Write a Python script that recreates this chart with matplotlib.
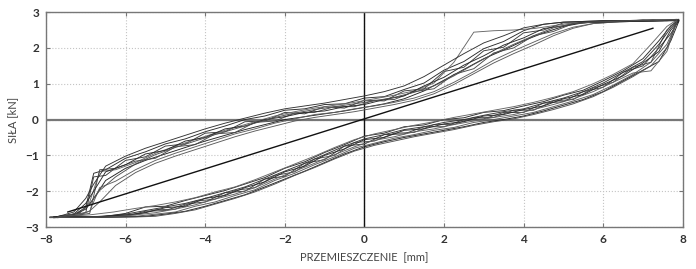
import numpy as np
import matplotlib
matplotlib.use("Agg")
import matplotlib.pyplot as plt

# --- przemieszczenie (x): dwie siatki punktow pomiarowych ---
x_load_a = [-7.8, -7.2, -6.6, -6.0, -5.5, -5.0, -4.5, -4.0, -3.5, -3.0, -2.5,
            -2.0, -1.5, -1.0, -0.5, 0.0, 0.5, 1.0, 1.5, 2.0, 2.5, 3.0, 3.5,
            4.0, 4.5, 5.0, 5.5, 6.0, 6.5, 7.0, 7.4, 7.7, 7.9]
x_load_b = [-7.9, -7.4, -6.9, -6.3, -5.75, -5.25, -4.75, -4.25, -3.75, -3.25,
            -2.75, -2.25, -1.75, -1.25, -0.75, -0.25, 0.25, 0.75, 1.25, 1.75,
            2.25, 2.75, 3.25, 3.75, 4.25, 4.75, 5.25, 5.75, 6.25, 6.75, 7.2,
            7.6, 7.85]
x_unload_a = [7.9, 7.5, 7.0, 6.5, 6.0, 5.5, 5.0, 4.5, 4.0, 3.5, 3.0, 2.5, 2.0,
              1.5, 1.0, 0.5, 0.0, -0.5, -1.0, -1.5, -2.0, -2.5, -3.0, -3.5,
              -4.0, -4.5, -5.0, -5.5, -6.0, -6.5, -6.8, -7.0, -7.3, -7.8]
x_unload_b = [7.85, 7.6, 7.25, 6.75, 6.25, 5.75, 5.25, 4.75, 4.25, 3.75, 3.25,
              2.75, 2.25, 1.75, 1.25, 0.75, 0.25, -0.25, -0.75, -1.25, -1.75,
              -2.25, -2.75, -3.25, -3.75, -4.25, -4.75, -5.25, -5.75, -6.25,
              -6.65, -6.9, -7.15, -7.7]

# --- sila (y), galaz obciazenia, kolejne cykle ---
load_1 = [-2.72, -2.70, -2.72, -2.62, -2.44, -2.42, -2.26, -2.12, -1.98, -1.80, -1.62, -1.36, -1.18, -0.92, -0.70, -0.46, -0.38,
          -0.20, -0.15, 0.00, 0.05, 0.20, 0.25, 0.38, 0.50, 0.68, 0.82, 1.08, 1.36, 1.70, 2.20, 2.62, 2.77]
load_2 = [-2.73, -2.72, -2.73, -2.72, -2.70, -2.64, -2.58, -2.42, -2.30, -2.12, -1.96, -1.70, -1.50, -1.26, -1.04, -0.80, -0.66,
          -0.52, -0.42, -0.30, -0.22, -0.08, 0.00, 0.10, 0.20, 0.36, 0.52, 0.70, 0.96, 1.26, 1.60, 2.10, 2.72]
load_3 = [-2.71, -2.73, -2.70, -2.70, -2.56, -2.54, -2.36, -2.30, -2.04, -2.00, -1.66, -1.58, -1.22, -1.12, -0.74, -0.68, -0.42,
          -0.40, -0.20, -0.20, 0.00, 0.02, 0.20, 0.20, 0.46, 0.50, 0.78, 0.90, 1.32, 1.50, 2.00, 2.40, 2.76]
load_4 = [-2.72, -2.70, -2.66, -2.58, -2.48, -2.40, -2.30, -2.18, -2.02, -1.88, -1.68, -1.46, -1.24, -1.02, -0.78, -0.56, -0.40,
          -0.28, -0.16, -0.06, 0.06, 0.16, 0.26, 0.36, 0.48, 0.62, 0.78, 1.00, 1.26, 1.56, 2.10, 2.60, 2.78]
load_5 = [-2.74, -2.72, -2.73, -2.72, -2.70, -2.64, -2.56, -2.42, -2.26, -2.10, -1.88, -1.66, -1.44, -1.20, -0.96, -0.76, -0.62,
          -0.50, -0.40, -0.30, -0.20, -0.08, 0.00, 0.10, 0.24, 0.40, 0.56, 0.78, 1.08, 1.38, 1.62, 2.20, 2.74]
load_6 = [-2.72, -2.70, -2.73, -2.68, -2.66, -2.52, -2.50, -2.28, -2.22, -1.98, -1.90, -1.56, -1.46, -1.10, -1.00, -0.64, -0.60,
          -0.38, -0.36, -0.14, -0.14, 0.06, 0.06, 0.26, 0.26, 0.52, 0.56, 0.88, 1.04, 1.46, 1.60, 2.50, 2.76]
load_7 = [-2.72, -2.72, -2.70, -2.64, -2.54, -2.44, -2.34, -2.20, -2.04, -1.88, -1.66, -1.44, -1.22, -0.98, -0.74, -0.54, -0.42,
          -0.28, -0.20, -0.08, 0.00, 0.12, 0.22, 0.30, 0.46, 0.60, 0.78, 1.02, 1.32, 1.62, 2.10, 2.56, 2.78]
load_8 = [-2.73, -2.71, -2.72, -2.71, -2.66, -2.60, -2.50, -2.38, -2.22, -2.08, -1.90, -1.66, -1.44, -1.22, -0.98, -0.76, -0.58,
          -0.48, -0.34, -0.26, -0.14, -0.04, 0.06, 0.14, 0.28, 0.42, 0.58, 0.78, 1.04, 1.30, 1.36, 1.90, 2.74]
load_9 = [-2.73, -2.71, -2.71, -2.66, -2.60, -2.46, -2.42, -2.20, -2.12, -1.90, -1.74, -1.46, -1.30, -1.00, -0.82, -0.56, -0.50,
          -0.30, -0.26, -0.12, -0.06, 0.10, 0.14, 0.28, 0.38, 0.58, 0.70, 0.98, 1.22, 1.58, 1.90, 2.50, 2.75]
load_10 = [-2.74, -2.73, -2.72, -2.72, -2.72, -2.70, -2.62, -2.52, -2.36, -2.20, -2.02, -1.80, -1.56, -1.34, -1.10, -0.88, -0.72,
           -0.60, -0.48, -0.38, -0.28, -0.16, -0.06, 0.02, 0.14, 0.28, 0.44, 0.64, 0.90, 1.20, 1.50, 2.00, 2.72]

# --- sila (y), galaz odciazenia, kolejne cykle ---
unload_1 = [2.78, 2.78, 2.76, 2.76, 2.76, 2.74, 2.72, 2.66, 2.48, 2.18, 1.98, 1.62, 1.38, 1.02, 0.84, 0.64, 0.60, 0.44, 0.42,
            0.30, 0.26, 0.10, 0.00, -0.18, -0.34, -0.54, -0.68, -0.90, -1.08, -1.40, -1.50, -2.45, -2.66, -2.72]
unload_2 = [2.77, 2.76, 2.76, 2.74, 2.72, 2.68, 2.55, 2.34, 2.08, 1.84, 1.58, 1.28, 0.98, 0.72, 0.54, 0.42, 0.32, 0.22, 0.14,
            0.06, -0.04, -0.18, -0.32, -0.48, -0.66, -0.84, -1.02, -1.22, -1.48, -1.84, -2.30, -2.55, -2.66, -2.72]
unload_3 = [2.80, 2.76, 2.78, 2.74, 2.76, 2.70, 2.70, 2.50, 2.42, 2.02, 1.92, 1.46, 1.34, 0.86, 0.80, 0.52, 0.54, 0.32, 0.36,
            0.16, 0.20, -0.04, -0.06, -0.34, -0.38, -0.68, -0.74, -1.04, -1.14, -1.56, -1.60, -2.60, -2.64, -2.72]
unload_4 = [2.80, 2.78, 2.78, 2.76, 2.74, 2.72, 2.70, 2.62, 2.54, 2.50, 2.48, 2.44, 1.60, 1.02, 0.80, 0.68, 0.58, 0.48, 0.40,
            0.32, 0.22, 0.10, -0.06, -0.22, -0.38, -0.56, -0.74, -0.94, -1.20, -1.40, -1.45, -2.30, -2.60, -2.74]
unload_5 = [2.77, 2.76, 2.75, 2.74, 2.72, 2.70, 2.60, 2.42, 2.20, 1.94, 1.70, 1.40, 1.10, 0.80, 0.58, 0.44, 0.34, 0.24, 0.16,
            0.08, 0.00, -0.14, -0.28, -0.44, -0.60, -0.78, -0.96, -1.14, -1.36, -1.70, -2.20, -2.50, -2.66, -2.72]
unload_6 = [2.78, 2.76, 2.78, 2.74, 2.76, 2.72, 2.68, 2.46, 2.34, 2.00, 1.86, 1.42, 1.26, 0.86, 0.78, 0.56, 0.54, 0.36, 0.36,
            0.20, 0.18, -0.04, -0.08, -0.36, -0.40, -0.70, -0.76, -1.08, -1.16, -1.36, -1.40, -2.62, -2.66, -2.72]
unload_7 = [2.78, 2.78, 2.78, 2.76, 2.76, 2.74, 2.72, 2.66, 2.56, 2.34, 2.14, 1.84, 1.52, 1.20, 0.94, 0.78, 0.66, 0.56, 0.46,
            0.38, 0.30, 0.18, 0.04, -0.10, -0.26, -0.44, -0.62, -0.80, -1.02, -1.30, -1.80, -2.20, -2.58, -2.74]
unload_8 = [2.76, 2.76, 2.74, 2.74, 2.72, 2.68, 2.58, 2.40, 2.16, 1.92, 1.66, 1.34, 1.04, 0.78, 0.60, 0.48, 0.38, 0.30, 0.20,
            0.14, 0.02, -0.10, -0.26, -0.40, -0.58, -0.76, -0.94, -1.14, -1.40, -1.72, -1.90, -2.56, -2.64, -2.72]
unload_9 = [2.76, 2.76, 2.74, 2.74, 2.72, 2.72, 2.62, 2.54, 2.28, 2.08, 1.78, 1.52, 1.18, 0.94, 0.66, 0.56, 0.42, 0.36, 0.24,
            0.20, 0.08, 0.00, -0.18, -0.26, -0.50, -0.60, -0.86, -0.96, -1.26, -1.46, -2.00, -2.34, -2.64, -2.72]
unload_10 = [2.78, 2.78, 2.76, 2.76, 2.74, 2.72, 2.68, 2.56, 2.34, 2.10, 1.84, 1.54, 1.22, 0.94, 0.76, 0.62, 0.52, 0.44, 0.36,
             0.28, 0.18, 0.06, -0.10, -0.26, -0.42, -0.60, -0.78, -0.98, -1.24, -1.60, -1.98, -2.36, -2.60, -2.72]

# --- prosta (sztywnosc sieczna) ---
line_x = [-7.45, 7.25]
line_y = [-2.58, 2.55]

x_ticks = [-8, -6, -4, -2, 0, 2, 4, 6, 8]
y_ticks = [-3, -2, -1, 0, 1, 2, 3]

cycles = [
    (x_load_a, load_1, x_unload_a, unload_1),
    (x_load_b, load_2, x_unload_b, unload_2),
    (x_load_a, load_3, x_unload_a, unload_3),
    (x_load_b, load_4, x_unload_b, unload_4),
    (x_load_a, load_5, x_unload_a, unload_5),
    (x_load_b, load_6, x_unload_b, unload_6),
    (x_load_a, load_7, x_unload_a, unload_7),
    (x_load_b, load_8, x_unload_b, unload_8),
    (x_load_a, load_9, x_unload_a, unload_9),
    (x_load_b, load_10, x_unload_b, unload_10),
]
colors = ["#2a2a2a", "#5a5a5a", "#3a3a3a", "#666666", "#222222",
          "#4a4a4a", "#333333", "#5f5f5f", "#282828", "#505050"]

plt.rcParams['font.family'] = ['Lato', 'DejaVu Sans']

fig = plt.figure(figsize=(6.96, 2.69), dpi=100)
ax = fig.add_axes([0.066, 0.156, 0.915, 0.799])

for (xl, yl, xu, yu), c in zip(cycles, colors):
    ax.plot(xl + xu, yl + yu, color=c, lw=0.65, zorder=2)

ax.plot(line_x, line_y, color="#111111", lw=1.0, zorder=3)

ax.axhline(0, color="#777777", lw=1.6, zorder=1.8)
ax.axvline(0, color="#111111", lw=1.0, zorder=1.8)

ax.set_xlim(-8, 8)
ax.set_ylim(-3, 3)
ax.set_xticks(x_ticks)
ax.set_yticks(y_ticks)
ax.grid(True, color="#c4c4c4", linestyle=":", lw=0.8)
ax.set_axisbelow(True)

for s in ax.spines.values():
    s.set_color("#777777")
    s.set_linewidth(1.0)

ax.tick_params(direction="in", length=3, color="#777777", top=True, right=True,
               labelsize=8.5, labelcolor="#333333", pad=5)
for lab in ax.get_xticklabels() + ax.get_yticklabels():
    lab.set_fontweight("bold")

ax.set_xlabel("PRZEMIESZCZENIE  [mm]", fontsize=8, color="#444444", labelpad=5)
ax.set_ylabel("SIŁA [kN]", fontsize=8, color="#444444", labelpad=5)

fig.savefig("out.png", dpi=100)
